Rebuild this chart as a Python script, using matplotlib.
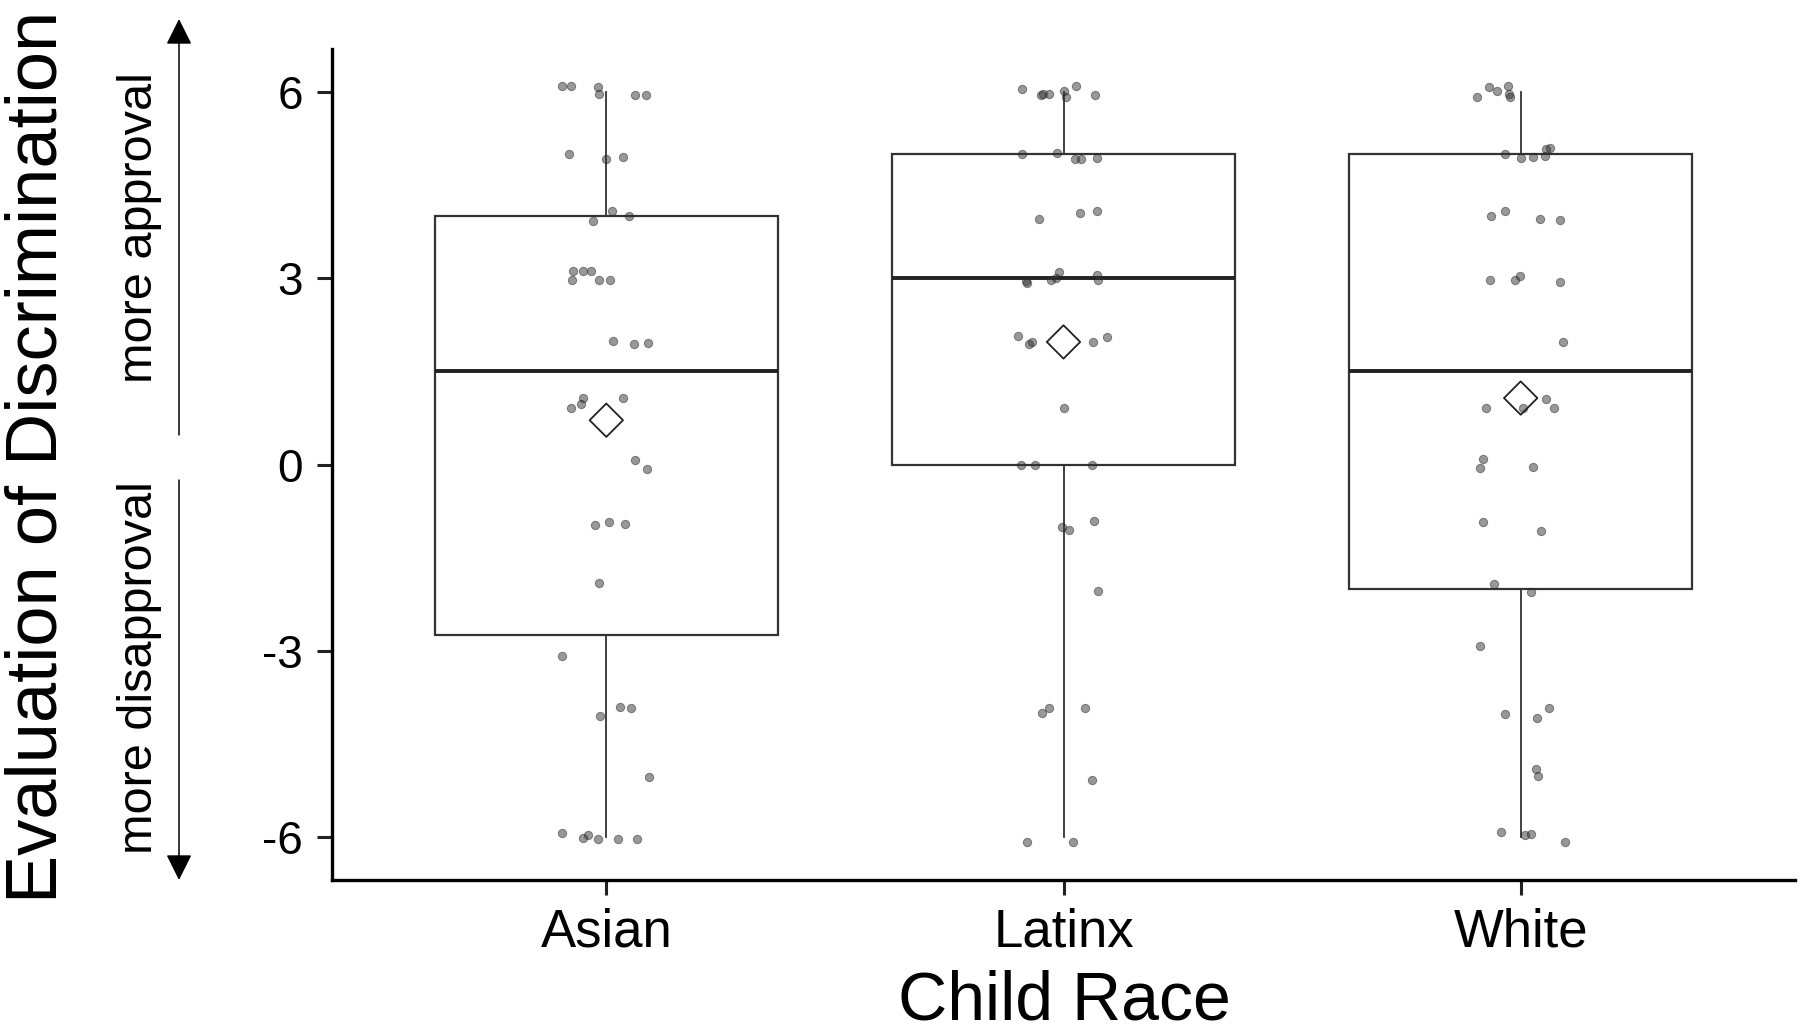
import numpy as np
import matplotlib
matplotlib.use("Agg")
import matplotlib.pyplot as plt

plt.rcParams['font.family'] = ['Liberation Sans', 'DejaVu Sans']

categories = ["Asian", "Latinx", "White"]
y_ticks = [-6, -3, 0, 3, 6]
y_tick_labels = ["-6", "-3", "0", "3", "6"]

# jittered points: horizontal offset, value
asian_dx = [-0.096, -0.077, -0.018, -0.017, 0.063, 0.087,
            -0.082, 0.0, 0.036,
            0.012, -0.029, 0.050,
            -0.073, -0.050, -0.034, -0.076, -0.017, 0.007,
            0.014, 0.060, 0.092,
            -0.052, -0.055, -0.077, 0.036,
            0.063, 0.088,
            -0.025, 0.005, 0.040,
            -0.017,
            -0.096,
            -0.013, 0.030, 0.054,
            0.093,
            -0.097, -0.041, -0.050, -0.019, 0.026, 0.068]
asian_y = [6.10, 6.10, 6.08, 5.97, 5.96, 5.96,
           5.01, 4.93, 4.96,
           4.09, 3.92, 4.00,
           3.12, 3.12, 3.12, 2.97, 2.97, 2.98,
           1.99, 1.95, 1.96,
           1.07, 0.98, 0.91, 1.07,
           0.08, -0.08,
           -0.98, -0.93, -0.96,
           -1.91,
           -3.09,
           -4.05, -3.91, -3.92,
           -5.04,
           -5.94, -5.97, -6.02, -6.04, -6.04, -6.04]

latinx_dx = [-0.091, -0.049, -0.044, -0.031, 0.0, 0.005, 0.027, 0.069,
             -0.090, -0.015, 0.025, 0.038, 0.073,
             -0.053, 0.036, 0.073,
             -0.082, -0.079, -0.027, -0.017, -0.009, 0.074, 0.076,
             -0.100, -0.075, -0.069, 0.065, 0.096,
             0.0,
             -0.093, -0.062, 0.062,
             -0.004, 0.013, 0.067,
             0.076,
             -0.031, -0.048, 0.047,
             0.063,
             -0.079, 0.021]
latinx_y = [6.06, 5.96, 5.97, 5.98, 6.02, 5.93, 6.11, 5.96,
            5.00, 5.03, 4.93, 4.93, 4.95,
            3.96, 4.06, 4.08,
            2.96, 2.93, 2.98, 3.01, 3.11, 3.05, 2.97,
            2.07, 1.94, 1.97, 1.98, 2.06,
            0.91,
            0.0, 0.0, 0.0,
            -1.00, -1.05, -0.91,
            -2.04,
            -3.93, -4.00, -3.92,
            -5.08,
            -6.09, -6.09]

white_dx = [-0.095, -0.069, -0.051, -0.028, -0.026, -0.024,
            -0.034, 0.0, 0.027, 0.053, 0.055, 0.065,
            -0.064, -0.034, 0.042, 0.085,
            -0.068, -0.012, -0.002, 0.085,
            0.092,
            -0.076, 0.006, 0.056, 0.073,
            -0.083, -0.088, 0.027,
            -0.083, 0.045,
            -0.058, 0.023,
            -0.089,
            -0.035, 0.035, 0.062,
            0.033, 0.037,
            -0.044, 0.009, 0.023, 0.098]
white_y = [5.92, 6.09, 6.02, 6.10, 5.97, 5.93,
           5.01, 4.95, 4.96, 4.98, 5.08, 5.10,
           4.00, 4.08, 3.96, 3.94,
           2.97, 2.98, 3.04, 2.95,
           1.98,
           0.91, 0.91, 1.06, 0.91,
           0.09, -0.05, -0.04,
           -0.92, -1.08,
           -1.92, -2.06,
           -2.92,
           -4.02, -4.09, -3.92,
           -4.91, -5.03,
           -5.92, -5.98, -5.96, -6.09]

groups_dx = [asian_dx, latinx_dx, white_dx]
groups_y = [asian_y, latinx_y, white_y]

W, H = 1800, 1026
fig = plt.figure(figsize=(W / 100, H / 100), dpi=100)
ax = fig.add_axes([332 / W, 1 - 880 / H, (1795 - 332) / W, (880 - 49) / H])

positions = np.arange(1, len(categories) + 1)
raw_values = [np.round(np.array(y)) for y in groups_y]

edge = '#333333'
ax.boxplot(raw_values, positions=positions, widths=0.75, whis=1.5,
           showfliers=False, patch_artist=True,
           boxprops=dict(facecolor='white', edgecolor=edge, linewidth=1.6),
           medianprops=dict(color='#222222', linewidth=2.8),
           whiskerprops=dict(color=edge, linewidth=1.3),
           capprops=dict(linewidth=0),
           zorder=1)

for pos, dx, y in zip(positions, groups_dx, groups_y):
    ax.scatter(pos + np.array(dx), y, s=36, color='#333333', alpha=0.5,
               linewidths=0.7, edgecolors='#222222', zorder=3)

means = [v.mean() for v in raw_values]
ax.scatter(positions, means, marker='D', s=17 ** 2, facecolors='none',
           edgecolors='#222222', linewidths=1.3, zorder=4)

ax.set_xlim(0.4, 3.6)
ax.set_ylim(-6.7, 6.7)
ax.set_xticks(positions)
ax.set_xticklabels(categories)
ax.set_yticks(y_ticks)
ax.set_yticklabels(y_tick_labels)
ax.tick_params(axis='x', labelsize=38, length=11, width=2.2, pad=9, color='#222222')
ax.tick_params(axis='y', labelsize=33, length=11, width=2.2, pad=10, color='#222222')
for s in ['top', 'right']:
    ax.spines[s].set_visible(False)
for s in ['left', 'bottom']:
    ax.spines[s].set_linewidth(2.4)
    ax.spines[s].set_color('black')

def fx(px):
    return px / W

def fy(py):
    return 1 - py / H

# axis titles
fig.text(fx(57), fy(457), "Evaluation of Discrimination", rotation=90,
         rotation_mode='anchor', ha='center', va='baseline', fontsize=52)
fig.text(fx(1064), fy(1020), "Child Race", ha='center', va='baseline', fontsize=49)

# direction annotations
fig.text(fx(152), fy(228), "more approval", rotation=90,
         rotation_mode='anchor', ha='center', va='baseline', fontsize=35)
fig.text(fx(152), fy(668), "more disapproval", rotation=90,
         rotation_mode='anchor', ha='center', va='baseline', fontsize=35)

arrow_kw = dict(arrowstyle='-|>,head_length=0.8,head_width=0.4',
                color='black', lw=1.1, shrinkA=0, shrinkB=0, mutation_scale=20)
ax.annotate('', xy=(fx(179), fy(19)), xytext=(fx(179), fy(435)),
            xycoords='figure fraction', textcoords='figure fraction',
            arrowprops=arrow_kw, annotation_clip=False)
ax.annotate('', xy=(fx(179), fy(880)), xytext=(fx(179), fy(480)),
            xycoords='figure fraction', textcoords='figure fraction',
            arrowprops=arrow_kw, annotation_clip=False)

fig.savefig("out.png", dpi=100, facecolor='white')
